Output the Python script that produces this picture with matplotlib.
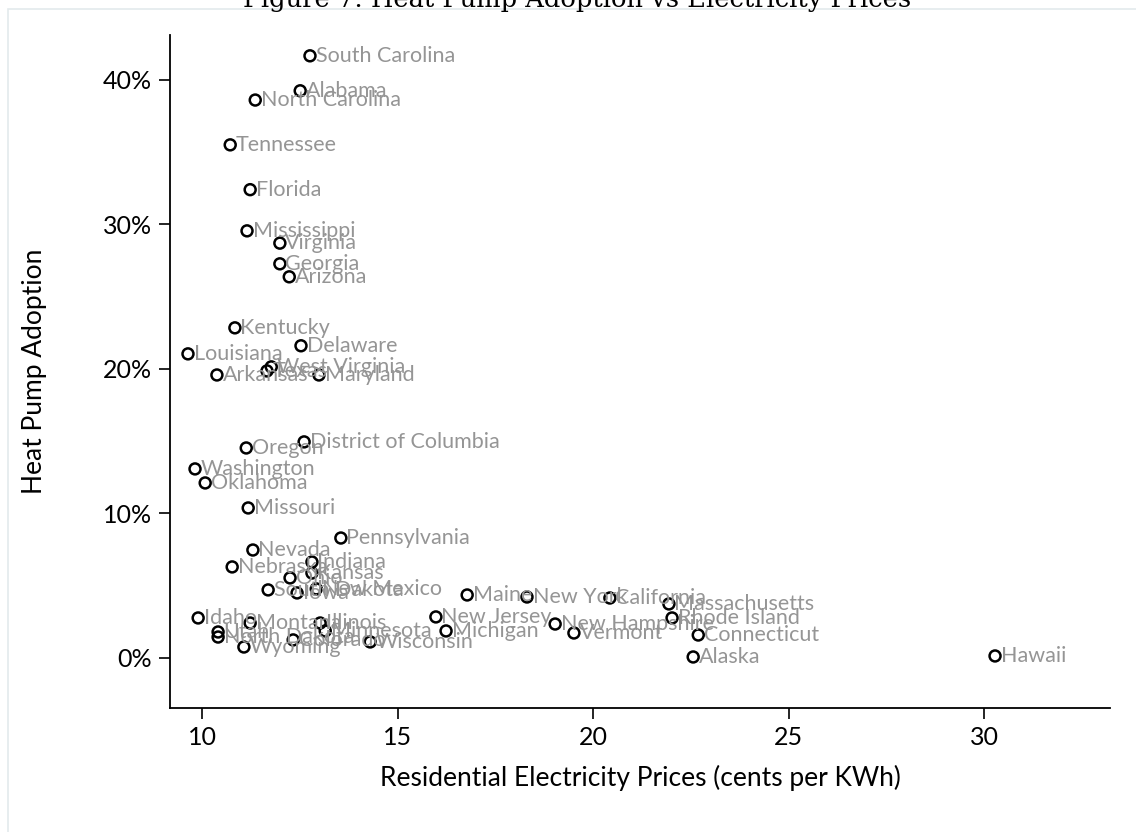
import matplotlib
matplotlib.use('Agg')
import matplotlib.pyplot as plt
from matplotlib.patches import Rectangle
from matplotlib.ticker import FuncFormatter

plt.rcParams['font.family'] = ['Lato', 'DejaVu Sans']

# state, electricity price (cents/KWh), heat pump share (%)
states = ['South Carolina', 'Alabama', 'North Carolina', 'Tennessee', 'Florida',
          'Mississippi', 'Virginia', 'Georgia', 'Arizona', 'Kentucky', 'Delaware',
          'Louisiana', 'West Virginia', 'Texas', 'Maryland', 'Arkansas',
          'District of Columbia', 'Oregon', 'Washington', 'Oklahoma', 'Missouri',
          'Pennsylvania', 'Nevada', 'Nebraska', 'Indiana', 'Kansas', 'Ohio',
          'South Dakota', 'Iowa', 'New Mexico', 'Maine', 'New York', 'California',
          'Massachusetts', 'Rhode Island', 'Connecticut', 'Alaska', 'New Jersey',
          'Michigan', 'New Hampshire', 'Vermont', 'Hawaii', 'Idaho', 'Montana',
          'Utah', 'North Dakota', 'Wyoming', 'Illinois', 'Minnesota', 'Colorado',
          'Wisconsin']
price = [12.76, 12.51, 11.36, 10.72, 11.23,
         11.15, 11.99, 11.99, 12.23, 10.84, 12.53,
         9.64, 11.77, 11.66, 12.99, 10.38,
         12.61, 11.13, 9.82, 10.08, 11.18,
         13.55, 11.30, 10.77, 12.81, 12.81, 12.25,
         11.69, 12.43, 12.92, 16.78, 18.31, 20.43,
         21.94, 22.02, 22.69, 22.56, 15.98,
         16.24, 19.03, 19.51, 30.28, 9.90, 11.23,
         10.41, 10.41, 11.07, 13.02, 13.15, 12.33,
         14.30]
adoption = [41.66, 39.24, 38.60, 35.50, 32.40,
            29.55, 28.70, 27.27, 26.37, 22.84, 21.60,
            21.04, 20.14, 19.86, 19.58, 19.58,
            14.95, 14.53, 13.08, 12.11, 10.38,
            8.30, 7.47, 6.30, 6.64, 5.88, 5.54,
            4.71, 4.50, 4.78, 4.36, 4.22, 4.15,
            3.74, 2.77, 1.59, 0.07, 2.84,
            1.87, 2.35, 1.73, 0.14, 2.77, 2.42,
            1.80, 1.45, 0.76, 2.42, 1.87, 1.25,
            1.11]

fig = plt.figure(figsize=(11.36, 8.32), dpi=100)

# light frame around the graph region (top/left visible, rest runs off the page)
fig.patches.append(Rectangle((8 / 1136, -0.02), 1.05, 1 - 9 / 832 + 0.02,
                             transform=fig.transFigure, fill=False,
                             edgecolor='#e3eaec', linewidth=1.2))
fig.text(0.508, 1 - 7 / 832, 'Figure 7: Heat Pump Adoption vs Electricity Prices',
         family='DejaVu Serif', fontsize=18.5, ha='center', va='baseline')

ax = fig.add_axes([170 / 1136, 1 - 708 / 832, 940 / 1136, 673 / 832])

ax.scatter(price, adoption, s=62, facecolors='none', edgecolors='black',
           linewidths=1.8, zorder=3)
for name, x, y in zip(states, price, adoption):
    ax.annotate(name, (x, y), xytext=(4, 0), textcoords='offset points',
                va='center', ha='left', fontsize=15.5, color='#959595')

ax.set_xlim(9.18, 33.22)
ax.set_ylim(-3.46, 43.1)
ax.set_xticks([10, 15, 20, 25, 30])
ax.set_yticks([0, 10, 20, 30, 40])
ax.yaxis.set_major_formatter(FuncFormatter(lambda v, p: '%d%%' % v))

for side in ['top', 'right']:
    ax.spines[side].set_visible(False)
for side in ['left', 'bottom']:
    ax.spines[side].set_linewidth(1.3)
ax.tick_params(direction='out', length=8, width=1.2, labelsize=18, pad=5)

ax.set_xlabel('Residential Electricity Prices (cents per KWh)', fontsize=19)
ax.set_ylabel('Heat Pump Adoption', fontsize=19)
ax.xaxis.set_label_coords(0.5, -0.085)
ax.yaxis.set_label_coords(-0.131, 0.5)

plt.savefig('out.png', dpi=100)
